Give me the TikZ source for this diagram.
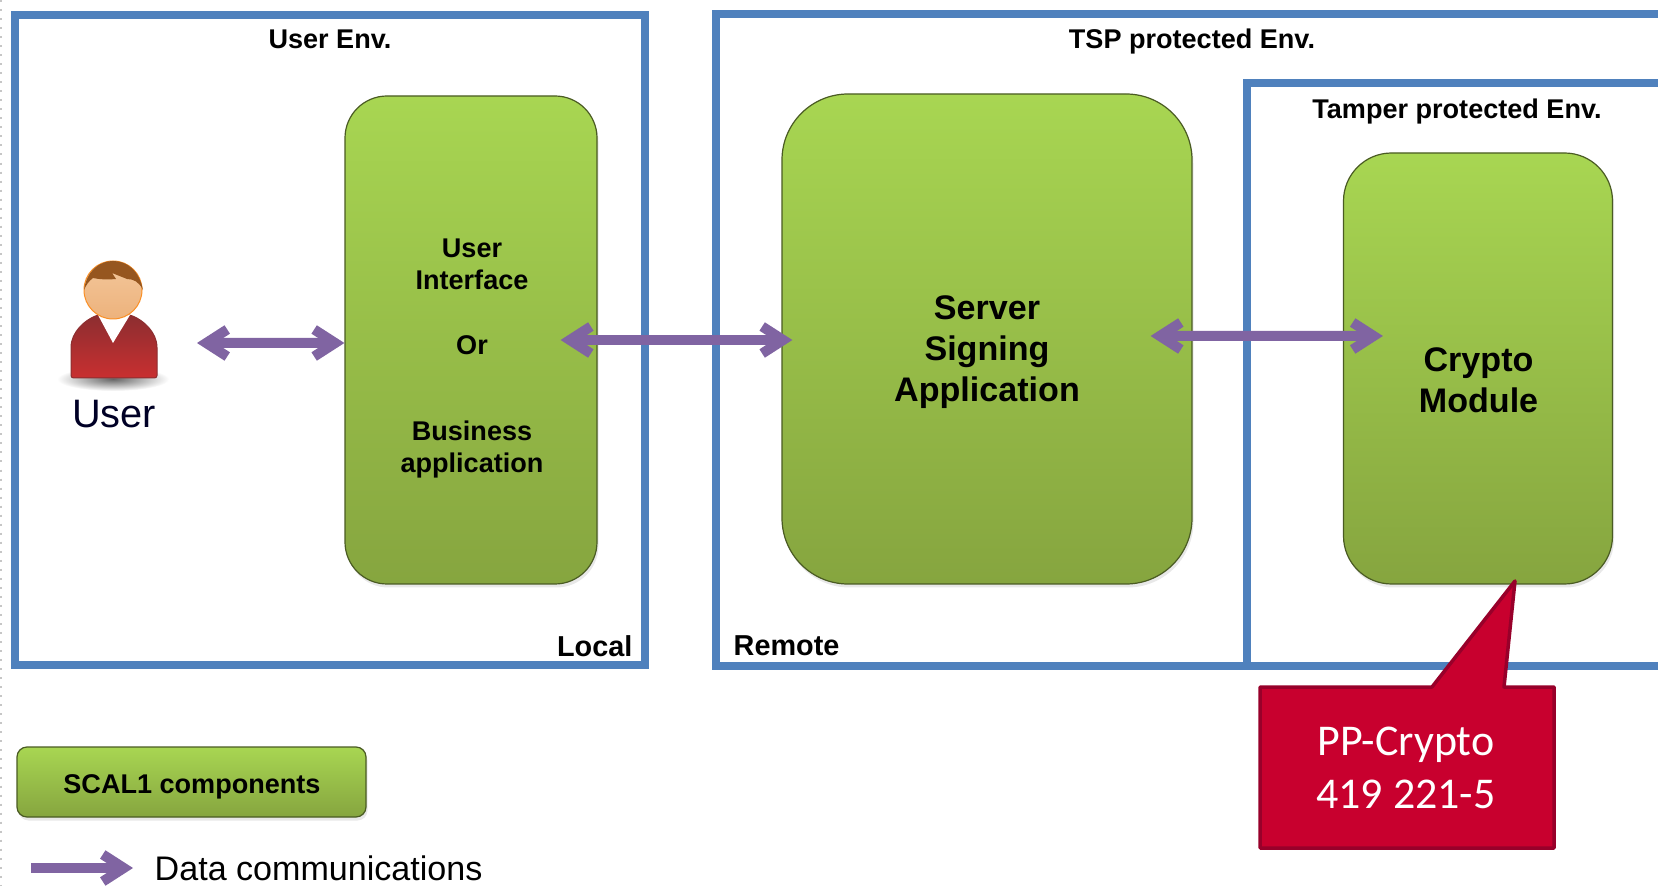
\documentclass[tikz,border=0pt]{standalone}
\usepackage{fontspec}
\setmainfont{Liberation Sans}
\newfontfamily\calloutfont{Carlito}
\usetikzlibrary{arrows.meta, shadows}
\definecolor{envblue}{HTML}{4F81BD}
\definecolor{datapurple}{HTML}{8064A2}
\definecolor{greentop}{HTML}{A8D652}
\definecolor{greenbot}{HTML}{86A53F}
\definecolor{ppred}{HTML}{C8002E}
\definecolor{ppdark}{HTML}{98002A}
\definecolor{shirttop}{HTML}{8C2E30}
\definecolor{shirtbot}{HTML}{C92F30}
\definecolor{skintop}{HTML}{F3C79B}
\definecolor{skinbot}{HTML}{EDB27C}
\definecolor{hair}{HTML}{96561F}
\tikzstyle{envbox} = [rectangle, draw=envblue, line width=0.85mm, inner sep=0pt]
\tikzstyle{envline} = [draw=envblue, line width=0.8mm]
\tikzstyle{component} = [rectangle, draw=greenbot!55!black, line width=0.12mm, top color=greentop, bottom color=greenbot, inner sep=0pt, drop shadow={shadow xshift=0.15mm, shadow yshift=-0.35mm, opacity=0.18}]
\tikzstyle{smalltext} = [font=\bfseries\fontsize{7.7pt}{9.2pt}\selectfont, text centered, align=center, text=black]
\tikzstyle{bigtext} = [font=\bfseries\fontsize{9.7pt}{11.7pt}\selectfont, text centered, align=center, text=black]
\tikzstyle{arrow} = [draw=datapurple, line width=1mm, >={Straight Barb[length=2.1mm, width=2.7mm]}]
\begin{document}
\begin{tikzpicture}[x=0.1mm, y=-0.1mm]
		\useasboundingbox (0,0) rectangle (1658,886);
		\fill [white] (0,0) rectangle (1658,886);
		\draw [gray!45, line width=0.2mm, dotted] (1,0) -- (1,886);

		% environments
		\node (userenv) [envbox, minimum width=6.3cm, minimum height=6.5cm] at (330,340) {};
		\draw [envline] (1658,14) -- (716,14) -- (716,666) -- (1658,666);
		\draw [envline] (1658,83) -- (1247,83) -- (1247,666);

		\node (usertitle) [smalltext, anchor=base] at (330,48.7) {User Env.};
		\node (tsptitle) [smalltext, anchor=base] at (1192,48.7) {TSP protected Env.};
		\node (tampertitle) [smalltext, anchor=base] at (1457,118.7) {Tamper protected Env.};
		\node (local) [smalltext, anchor=east, inner sep=0pt, font=\bfseries\fontsize{8.2pt}{10pt}\selectfont] at (633,646) {Local};
		\node (remote) [smalltext, anchor=west, inner sep=0pt, font=\bfseries\fontsize{8.2pt}{10pt}\selectfont] at (733,646) {Remote};

		% components
		\node (ui) [component, minimum width=2.52cm, minimum height=4.88cm, rounded corners=0.42cm] at (471,340) {};
		\node (server) [component, minimum width=4.1cm, minimum height=4.9cm, rounded corners=0.66cm] at (987,339) {};
		\node (crypto) [component, minimum width=2.69cm, minimum height=4.31cm, rounded corners=0.48cm] at (1478,368.5) {};

		\node (uitop) [smalltext] at (472,264.5) {User\\Interface};
		\node (uior) [smalltext] at (472,345) {Or};
		\node (uibottom) [smalltext] at (472,449.5) {Business\\application};
		\node (servertext) [bigtext] at (987,352) {Server\\Signing\\Application};
		\node (cryptotext) [bigtext] at (1478.5,380.5) {Crypto\\Module};

		% user figure
		\shade [inner color=black!60, outer color=white] (113,379) ellipse (56 and 12);
		\draw [draw=shirttop, line width=0.1mm, top color=shirttop, bottom color=shirtbot, rounded corners=0.25mm] (71,378) -- (71,350) .. controls (71,332) and (85,320) .. (98,315) -- (130,315) .. controls (143,320) and (157,332) .. (157,350) -- (157,378) -- cycle;
		\fill [white] (98,315) -- (113,343) -- (130,315) -- cycle;
		\draw [draw=orange!70!skinbot, line width=0.1mm, top color=skintop, bottom color=skinbot] (113,290) circle (29);
		\fill [hair] (84,290) .. controls (87,270) and (100,261) .. (113,261) .. controls (127,261) and (139,270) .. (143,290) .. controls (139,282) and (134,279) .. (127,279) -- (112,273) -- (116,279) .. controls (105,280) and (98,279) .. (93,278) .. controls (89,281) and (86,285) .. (84,290) -- cycle;
		\node (userlabel) [font=\fontsize{11.3pt}{13pt}\selectfont, text=black!85!blue] at (114,414) {User};

		\coordinate (userport) at (197,343);

		% data links
		\draw [arrow, <->] (userport) -- ([yshift=-0.3mm]ui.west);
		\draw [arrow, <->] ([xshift=-3.7mm]ui.east) -- ([xshift=1.1mm, yshift=-0.1mm]server.west);
		\draw [arrow, <->] ([xshift=-4.2mm, yshift=0.3mm]server.east) -- ([xshift=4mm, yshift=3.25mm]crypto.west);

		% callout
		\draw [fill=ppred, draw=ppdark, line width=0.35mm, line join=round] (1260,687) -- (1432,687) -- (1515,581) -- (1504,687) -- (1554,687) -- (1554,848) -- (1260,848) -- cycle;
		\node (pp) [text=white, align=center, font=\calloutfont\fontsize{12.5pt}{15pt}\selectfont] at (1406,768) {PP-Crypto\\419 221-5};

		% legend
		\node (legendbox) [component, minimum width=3.49cm, minimum height=0.7cm, rounded corners=0.1cm] at (191.5,782) {};
		\node (legendtext) [smalltext] at (192,787) {SCAL1 components};
		\coordinate (legendstart) at (31,868);
		\node (legenddata) [anchor=west, inner sep=0pt, font=\fontsize{9.7pt}{11pt}\selectfont] at (154,868) {Data communications};
		\draw [arrow, ->] (legendstart) -- ([xshift=-2.1mm]legenddata.west);
\end{tikzpicture}
\end{document}
